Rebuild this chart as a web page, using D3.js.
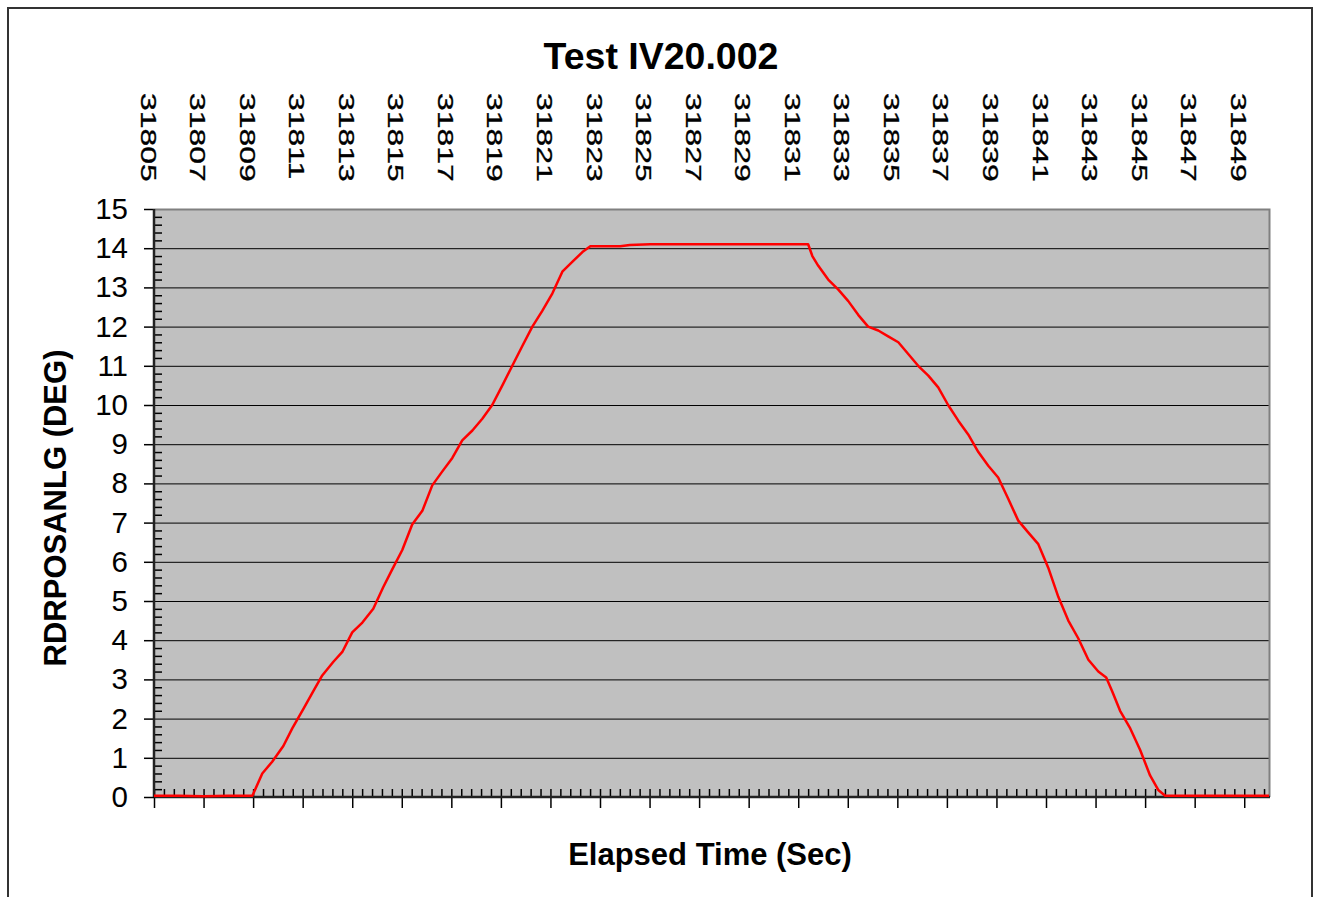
<!DOCTYPE html>
<html>
<head>
<meta charset="utf-8">
<script src="https://cdn.jsdelivr.net/npm/d3@7"></script>
<style>
  body { margin: 0; background: #fff; }
  text { font-family: Arial, "Liberation Sans", sans-serif; fill: #000; }
</style>
</head>
<body>
<div id="chart"></div>
<script>
// Chart data: elapsed time (sec) and RDRPOSANLG (deg)
var times = [
  31805.00, 31806.00, 31807.00, 31808.00, 31808.97,
  31809.37, 31809.77, 31810.22, 31810.58, 31811.03, 31811.43, 31811.79, 31812.24,
  31812.60, 31813.00, 31813.41, 31813.85, 31814.25, 31814.61, 31815.02, 31815.42,
  31815.83, 31816.23, 31816.63, 31817.04, 31817.44, 31817.85, 31818.25, 31818.65,
  31819.06, 31819.46, 31819.86, 31820.27, 31820.67, 31821.08, 31821.48, 31821.88,
  31822.29, 31822.61, 31823.82, 31824.20, 31825.03, 31831.40,
  31831.57, 31831.81, 31832.21, 31832.61, 31833.02, 31833.42, 31833.82, 31834.23,
  31834.63, 31835.04, 31835.44, 31835.84, 31836.25, 31836.65, 31837.05, 31837.46,
  31837.86, 31838.27, 31838.67, 31839.07, 31839.48, 31839.88, 31840.28, 31840.69,
  31841.09, 31841.50, 31841.90, 31842.30, 31842.71, 31843.11, 31843.43, 31843.67,
  31843.99, 31844.40, 31844.80, 31845.20, 31845.53, 31845.81, 31847.00, 31848.50, 31850.00
];
var angles = [
  0.03, 0.03, 0.02, 0.03, 0.03,
  0.60, 0.90, 1.30, 1.75, 2.25, 2.70, 3.10, 3.45,
  3.70, 4.20, 4.45, 4.80, 5.35, 5.80, 6.30, 6.95,
  7.30, 7.95, 8.30, 8.65, 9.10, 9.35, 9.65, 10.00,
  10.50, 11.00, 11.50, 12.00, 12.40, 12.85, 13.40, 13.65,
  13.90, 14.05, 14.05, 14.08, 14.10, 14.10,
  13.80, 13.55, 13.20, 12.95, 12.65, 12.30, 12.00, 11.90,
  11.75, 11.60, 11.30, 11.00, 10.75, 10.45, 10.00, 9.60,
  9.25, 8.80, 8.45, 8.15, 7.60, 7.05, 6.75, 6.45,
  5.85, 5.10, 4.50, 4.05, 3.50, 3.20, 3.05, 2.70,
  2.20, 1.75, 1.20, 0.55, 0.18, 0.03, 0.03, 0.03, 0.03
];
var xTickLabels = d3.range(31805, 31850, 2);
var yTickLabels = d3.range(0, 16, 1);

var svgWidth = 1319;
var svgHeight = 897;

var plot = { left: 154, top: 209, right: 1269, bottom: 797 };

var svg = d3.select("#chart")
  .append("svg")
  .attr("width", svgWidth)
  .attr("height", svgHeight);

// outer frame
svg.append("rect")
  .attr("x", 8).attr("y", 8)
  .attr("width", 1304).attr("height", 900)
  .attr("fill", "none")
  .attr("stroke", "#333")
  .attr("stroke-width", 2);

var xScale = d3.scaleLinear()
  .domain([31805, 31850])
  .range([plot.left, plot.right]);

var yScale = d3.scaleLinear()
  .domain([0, 15])
  .range([plot.bottom, plot.top]);

// plot area
svg.append("rect")
  .attr("x", plot.left).attr("y", plot.top)
  .attr("width", plot.right - plot.left)
  .attr("height", plot.bottom - plot.top)
  .attr("fill", "#c0c0c0");

// horizontal grid lines
svg.append("g")
  .selectAll("line")
  .data(yTickLabels.filter(d => d > 0 && d < 15))
  .enter()
  .append("line")
  .attr("x1", plot.left).attr("x2", plot.right)
  .attr("y1", d => yScale(d) + 0.5).attr("y2", d => yScale(d) + 0.5)
  .attr("stroke", "#000")
  .attr("stroke-width", 1);

// plot border top / right
svg.append("path")
  .attr("d", `M${plot.left},${plot.top + 0.5}H${plot.right + 0.5}V${plot.bottom}`)
  .attr("fill", "none")
  .attr("stroke", "#808080")
  .attr("stroke-width", 2);

// y axis: major ticks outward, minor inward
var leftAxis = d3.axisLeft(yScale)
  .tickValues(yTickLabels)
  .tickSize(10)
  .tickPadding(16)
  .tickFormat(d3.format("d"));

var yAxisG = svg.append("g")
  .attr("transform", `translate(${plot.left}, 0)`)
  .call(leftAxis);
yAxisG.select(".domain").remove();
yAxisG.selectAll(".tick line").attr("stroke", "#000").attr("stroke-width", 1.5);
yAxisG.selectAll(".tick text")
  .attr("font-size", 29.5)
  .attr("font-family", "Arial, 'Liberation Sans', sans-serif")
  .attr("fill", "#000");

var yMinor = d3.axisRight(yScale)
  .tickValues(d3.range(0, 75).map(i => i * 0.2).filter(d => Math.abs(d - Math.round(d)) > 0.01))
  .tickSize(8)
  .tickFormat("");
var yMinorG = svg.append("g")
  .attr("transform", `translate(${plot.left}, 0)`)
  .call(yMinor);
yMinorG.select(".domain").remove();
yMinorG.selectAll(".tick line").attr("stroke", "#000").attr("stroke-width", 1.5);

// x axis: major ticks every 2 s downward, minor every 0.4 s upward
var bottomAxis = d3.axisBottom(xScale)
  .tickValues(xTickLabels)
  .tickSize(11)
  .tickFormat("");
var xAxisG = svg.append("g")
  .attr("transform", `translate(0, ${plot.bottom})`)
  .call(bottomAxis);
xAxisG.select(".domain").remove();
xAxisG.selectAll(".tick line").attr("stroke", "#000").attr("stroke-width", 1.5);

var xMinor = d3.axisTop(xScale)
  .tickValues(d3.range(0, 113).map(i => 31805 + i * 0.4))
  .tickSize(8)
  .tickFormat("");
var xMinorG = svg.append("g")
  .attr("transform", `translate(0, ${plot.bottom})`)
  .call(xMinor);
xMinorG.select(".domain").remove();
xMinorG.selectAll(".tick line").attr("stroke", "#000").attr("stroke-width", 1.5);

// axis lines
svg.append("line")
  .attr("x1", plot.left).attr("x2", plot.left)
  .attr("y1", plot.top).attr("y2", plot.bottom)
  .attr("stroke", "#222").attr("stroke-width", 2.5);
svg.append("line")
  .attr("x1", plot.left).attr("x2", plot.right + 1)
  .attr("y1", plot.bottom).attr("y2", plot.bottom)
  .attr("stroke", "#222").attr("stroke-width", 2.5);

// top tick labels, rotated and stretched
svg.append("g")
  .selectAll("text")
  .data(xTickLabels)
  .enter()
  .append("text")
  .attr("transform", d => `translate(${xScale(d) - 13.5}, 93) rotate(90) scale(1.45, 1)`)
  .attr("font-size", 22)
  .attr("stroke", "#000")
  .attr("stroke-width", 0.3)
  .text(d => d);

// data line
var line = d3.line()
  .x((d, i) => xScale(times[i]))
  .y(d => yScale(d));

svg.append("path")
  .datum(angles)
  .attr("d", line)
  .attr("fill", "none")
  .attr("stroke", "#ff0000")
  .attr("stroke-width", 2.5)
  .attr("stroke-linejoin", "round");

// titles
svg.append("text")
  .attr("x", 661).attr("y", 69)
  .attr("text-anchor", "middle")
  .attr("font-size", 37.5)
  .attr("font-weight", "bold")
  .text("Test IV20.002");

svg.append("text")
  .attr("x", 710).attr("y", 865)
  .attr("text-anchor", "middle")
  .attr("font-size", 31)
  .attr("font-weight", "bold")
  .text("Elapsed Time (Sec)");

svg.append("text")
  .attr("transform", `translate(66, ${(plot.top + plot.bottom) / 2 + 5}) rotate(-90)`)
  .attr("text-anchor", "middle")
  .attr("font-size", 31)
  .attr("font-weight", "bold")
  .text("RDRPOSANLG (DEG)");
</script>
</body>
</html>
